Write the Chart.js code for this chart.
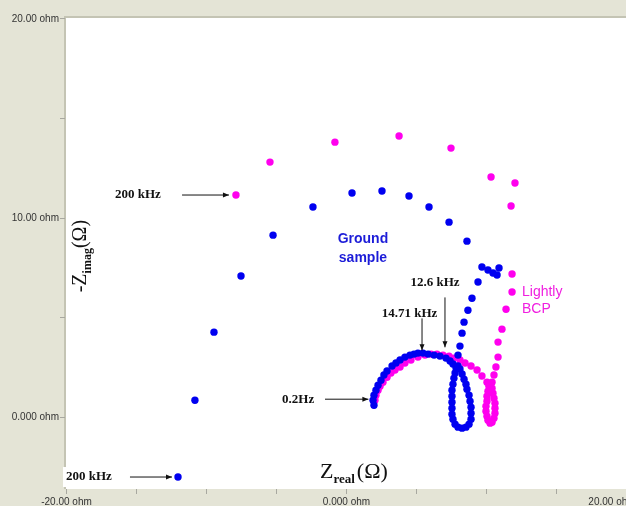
<!DOCTYPE html>
<html>
<head>
<meta charset="utf-8">
<script src="https://cdn.jsdelivr.net/npm/chart.js@4"></script>
<style>
  body { margin: 0; background: #e4e4d6; overflow: hidden; }
  #wrap { width: 626px; height: 506px; }
</style>
</head>
<body>
<div id="wrap"><canvas id="nyquist" width="626" height="506"></canvas></div>
<script>
// Axis ticks (ohm)
const xTicks = [-20, -15, -10, -5, 0, 5, 10, 15, 20];
const xTickLabels = { '-20': '-20.00 ohm', '0': '0.000 ohm', '20': '20.00 ohm' };
const yTicks = [0, 5, 10, 15, 20];
const yTickLabels = { '0': '0.000 ohm', '10': '10.00 ohm', '20': '20.00 ohm' };

// Ground sample: Zreal / -Zimag
const groundX = [
  -12.0, -10.79, -9.43, -7.5, -5.21, -2.36, 0.43, 2.57, 4.5, 5.93, 7.36, 8.64,
  9.71, 10.14, 10.5, 10.79, 10.93, 9.43, 9.0, 8.71, 8.43, 8.29, 8.14, 8.0,
  2.0, 1.93, 2.0, 2.14, 2.29, 2.5, 2.71, 2.93, 3.29, 3.57, 3.86, 4.21, 4.57, 4.86,
  5.14, 5.5, 5.86, 6.29, 6.71, 7.14, 7.43, 7.64,
  7.86, 7.79, 7.71, 7.64, 7.57, 7.57, 7.57, 7.57, 7.57, 7.64, 7.79, 8.0, 8.29,
  8.57, 8.79, 8.93, 8.93, 8.93, 8.86, 8.79, 8.64, 8.57, 8.43, 8.29, 8.14, 8.0
];
const groundY = [
  -3.0, 0.85, 4.26, 7.07, 9.12, 10.53, 11.23, 11.33, 11.08, 10.53, 9.77, 8.82,
  7.52, 7.37, 7.22, 7.12, 7.47, 6.77, 5.96, 5.36, 4.76, 4.21, 3.56, 3.11,
  0.6, 0.85, 1.10, 1.35, 1.60, 1.85, 2.11, 2.31, 2.56, 2.71, 2.86, 3.01, 3.11, 3.16,
  3.21, 3.21, 3.16, 3.11, 3.06, 2.96, 2.81, 2.66,
  2.46, 2.21, 1.95, 1.65, 1.35, 1.05, 0.75, 0.45, 0.15, -0.10, -0.35, -0.50, -0.55,
  -0.50, -0.35, -0.10, 0.20, 0.50, 0.80, 1.10, 1.40, 1.65, 1.90, 2.16, 2.41, 2.56
];

// Lightly BCP: Zreal / -Zimag
const bcpX = [
  -7.86, -5.43, -0.79, 3.79, 7.5, 10.36, 12.07, 11.79,
  11.86, 11.86, 11.43, 11.14, 10.86, 10.86, 10.71, 10.57,
  10.43, 10.21, 10.14, 10.07, 10.07, 10.0, 10.0, 10.07, 10.14, 10.29, 10.43,
  10.57, 10.64, 10.64, 10.64, 10.57, 10.5, 10.43,
  2.07, 2.14, 2.29, 2.43, 2.64, 2.93, 3.21, 3.5, 3.86, 4.21, 4.64, 5.14, 5.64,
  6.07, 6.5, 6.93, 7.36, 7.71, 8.14, 8.5, 8.93, 9.36, 9.71, 10.07
];
const bcpY = [
  11.13, 12.78, 13.78, 14.09, 13.48, 12.03, 11.73, 10.58,
  7.17, 6.27, 5.41, 4.41, 3.76, 3.01, 2.51, 2.11,
  1.75, 1.55, 1.30, 1.05, 0.80, 0.55, 0.30, 0.05, -0.15, -0.30, -0.25,
  -0.05, 0.20, 0.45, 0.70, 0.95, 1.20, 1.45,
  0.85, 1.10, 1.35, 1.55, 1.75, 2.0, 2.21, 2.36, 2.51, 2.71, 2.86, 3.01, 3.11,
  3.16, 3.16, 3.11, 3.06, 2.96, 2.86, 2.71, 2.56, 2.36, 2.06, 1.75
];

// Frequency callouts: text anchor and arrow, in ohm
const arrowNotes = [
  { text: '200 kHz', tx: -16.5, ty: 11.13, from: [-11.71, 11.13], to: [-8.36, 11.13] },
  { text: '200 kHz', tx: -20.0, ty: -3.0, from: [-15.43, -3.0], to: [-12.43, -3.0] },
  { text: '0.2Hz', tx: -4.57, ty: 0.9, from: [-1.5, 0.9], to: [1.6, 0.9] },
  { text: '14.71 kHz', tx: 2.55, ty: 5.2, from: [5.43, 4.95], to: [5.43, 3.35] },
  { text: '12.6 kHz', tx: 4.6, ty: 6.72, from: [7.07, 6.0], to: [7.07, 3.5] }
];

const toPts = (xs, ys) => xs.map((x, i) => ({ x: x, y: ys[i] }));

const frame = {
  id: 'frame',
  beforeDraw(chart) {
    const { ctx, chartArea: a } = chart;
    ctx.save();
    ctx.fillStyle = '#e4e4d6';
    ctx.fillRect(0, 0, chart.width, chart.height);
    ctx.fillStyle = '#ffffff';
    ctx.fillRect(a.left, a.top, a.right - a.left, a.bottom - a.top);
    ctx.strokeStyle = '#c4c4b4';
    ctx.lineWidth = 2;
    ctx.beginPath();
    ctx.moveTo(a.left - 1, a.bottom);
    ctx.lineTo(a.left - 1, a.top - 1);
    ctx.lineTo(a.right, a.top - 1);
    ctx.stroke();
    ctx.restore();
  },
  afterDatasetsDraw(chart) {
    const { ctx, chartArea: a, scales: { x, y } } = chart;
    ctx.save();

    // tick marks + labels
    ctx.strokeStyle = '#a8a8a0';
    ctx.lineWidth = 1;
    ctx.fillStyle = '#333';
    ctx.font = '10px Arial, "Liberation Sans", sans-serif';
    yTicks.forEach(v => {
      const py = Math.round(y.getPixelForValue(v)) + 0.5;
      ctx.beginPath();
      ctx.moveTo(a.left - 6, py);
      ctx.lineTo(a.left - 1, py);
      ctx.stroke();
      if (yTickLabels[v]) {
        ctx.textAlign = 'right';
        ctx.textBaseline = 'middle';
        ctx.fillText(yTickLabels[v], a.left - 7, Math.max(py, 19));
      }
    });
    xTicks.forEach(v => {
      const px = Math.round(x.getPixelForValue(v)) + 0.5;
      ctx.beginPath();
      ctx.moveTo(px, a.bottom);
      ctx.lineTo(px, a.bottom + 5);
      ctx.stroke();
      if (xTickLabels[v]) {
        ctx.textAlign = 'center';
        ctx.textBaseline = 'middle';
        ctx.fillText(xTickLabels[v], Math.min(Math.max(px, 36), chart.width - 14), a.bottom + 13);
      }
    });

    // white box behind the low 200 kHz note, as in the source
    const lowNote = arrowNotes[1];
    ctx.fillStyle = '#ffffff';
    ctx.fillRect(x.getPixelForValue(lowNote.tx) - 3, y.getPixelForValue(lowNote.ty) - 10, 54, 20);

    // frequency callouts
    ctx.fillStyle = '#111';
    ctx.strokeStyle = '#111';
    ctx.font = 'bold 13px "Times New Roman", "Liberation Serif", serif';
    ctx.textAlign = 'left';
    ctx.textBaseline = 'middle';
    arrowNotes.forEach(n => {
      ctx.fillText(n.text, x.getPixelForValue(n.tx), y.getPixelForValue(n.ty));
      const x0 = x.getPixelForValue(n.from[0]), y0 = y.getPixelForValue(n.from[1]);
      const x1 = x.getPixelForValue(n.to[0]), y1 = y.getPixelForValue(n.to[1]);
      const ang = Math.atan2(y1 - y0, x1 - x0);
      ctx.lineWidth = 1;
      ctx.beginPath();
      ctx.moveTo(x0, y0);
      ctx.lineTo(x1, y1);
      ctx.stroke();
      ctx.beginPath();
      ctx.moveTo(x1, y1);
      ctx.lineTo(x1 - 6 * Math.cos(ang) + 2.5 * Math.sin(ang), y1 - 6 * Math.sin(ang) - 2.5 * Math.cos(ang));
      ctx.lineTo(x1 - 6 * Math.cos(ang) - 2.5 * Math.sin(ang), y1 - 6 * Math.sin(ang) + 2.5 * Math.cos(ang));
      ctx.closePath();
      ctx.fill();
    });

    // series labels
    ctx.font = 'bold 14px Arial, "Liberation Sans", sans-serif';
    ctx.fillStyle = '#1c1cd8';
    ctx.textAlign = 'center';
    ctx.fillText('Ground', x.getPixelForValue(1.21), y.getPixelForValue(8.92));
    ctx.fillText('sample', x.getPixelForValue(1.21), y.getPixelForValue(7.97));
    ctx.font = '14px Arial, "Liberation Sans", sans-serif';
    ctx.fillStyle = '#f020e0';
    ctx.textAlign = 'left';
    ctx.fillText('Lightly', x.getPixelForValue(12.57), y.getPixelForValue(6.27));
    ctx.fillText('BCP', x.getPixelForValue(12.57), y.getPixelForValue(5.41));

    // axis titles
    ctx.fillStyle = '#111';
    ctx.textBaseline = 'alphabetic';
    const serif = '"Times New Roman", "Liberation Serif", serif';
    let px = x.getPixelForValue(-1.86), py = y.getPixelForValue(-3.05);
    ctx.font = '22px ' + serif;
    ctx.fillText('Z', px, py);
    px += ctx.measureText('Z').width;
    ctx.font = 'bold 13px ' + serif;
    ctx.fillText('real', px, py + 5);
    px += ctx.measureText('real').width + 2;
    ctx.font = '22px ' + serif;
    ctx.fillText('(Ω)', px, py);

    ctx.translate(x.getPixelForValue(-18.6), y.getPixelForValue(8.07));
    ctx.rotate(-Math.PI / 2);
    const parts = [['-Z', '20px ' + serif, 0], ['imag', 'bold 12px ' + serif, 5], ['(Ω)', '20px ' + serif, 0]];
    let total = 0;
    parts.forEach(p => { ctx.font = p[1]; total += ctx.measureText(p[0]).width; });
    let cx = -total / 2;
    parts.forEach(p => {
      ctx.font = p[1];
      ctx.fillText(p[0], cx, p[2]);
      cx += ctx.measureText(p[0]).width;
    });
    ctx.restore();
  }
};

new Chart(document.getElementById('nyquist'), {
  type: 'scatter',
  data: {
    datasets: [
      {
        label: 'Ground sample',
        data: toPts(groundX, groundY),
        backgroundColor: '#0000f0',
        borderWidth: 0,
        pointRadius: 3.7
      },
      {
        label: 'Lightly BCP',
        data: toPts(bcpX, bcpY),
        backgroundColor: '#ff00ee',
        borderWidth: 0,
        pointRadius: 3.7
      }
    ]
  },
  options: {
    responsive: false,
    animation: false,
    layout: { autoPadding: false, padding: { left: 66, right: 0, top: 18, bottom: 17 } },
    plugins: { legend: { display: false }, tooltip: { enabled: false } },
    scales: {
      x: { type: 'linear', min: -20, max: 20, display: false },
      y: { type: 'linear', min: -3.6, max: 20, display: false }
    }
  },
  plugins: [frame]
});
</script>
</body>
</html>
